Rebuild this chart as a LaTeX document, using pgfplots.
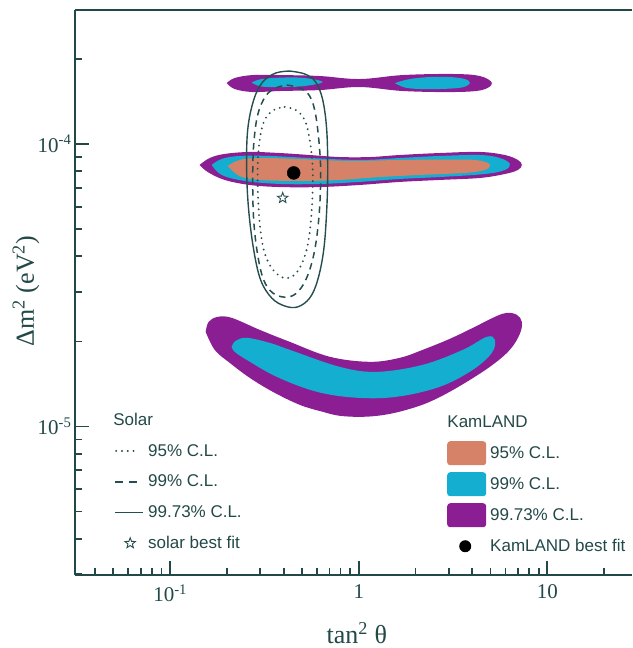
\documentclass[border=0pt]{standalone}
\usepackage{fontspec}
\setmainfont{Liberation Serif}
\newfontfamily\legendfont{Liberation Sans}
\usepackage{pgfplots}
\pgfplotsset{compat=1.18}
\definecolor{axcol}{RGB}{35,72,72}
\definecolor{linecol}{RGB}{38,78,78}
\definecolor{kpurple}{RGB}{140,30,148}
\definecolor{kcyan}{RGB}{20,174,208}
\definecolor{ksalmon}{RGB}{214,130,104}
\newcommand\lfont{\legendfont\fontsize{17}{20}\selectfont}
\pgfdeclareplotmark{ostar}{%
  \pgfpathmoveto{\pgfpointpolar{90}{\pgfplotmarksize}}%
  \pgfpathlineto{\pgfpointpolar{126}{0.42\pgfplotmarksize}}%
  \pgfpathlineto{\pgfpointpolar{162}{\pgfplotmarksize}}%
  \pgfpathlineto{\pgfpointpolar{198}{0.42\pgfplotmarksize}}%
  \pgfpathlineto{\pgfpointpolar{234}{\pgfplotmarksize}}%
  \pgfpathlineto{\pgfpointpolar{270}{0.42\pgfplotmarksize}}%
  \pgfpathlineto{\pgfpointpolar{306}{\pgfplotmarksize}}%
  \pgfpathlineto{\pgfpointpolar{342}{0.42\pgfplotmarksize}}%
  \pgfpathlineto{\pgfpointpolar{18}{\pgfplotmarksize}}%
  \pgfpathlineto{\pgfpointpolar{54}{0.42\pgfplotmarksize}}%
  \pgfpathclose\pgfusepathqstroke}
\begin{document}
\begin{tikzpicture}
% ---------------- KamLAND regions ----------------
\begin{axis}[at={(0pt,0pt)}, anchor=south west, scale only axis,
    width=557pt, height=565pt, xmode=log, ymode=log,
    xmin=0.0313, xmax=28.1, ymin=2.98e-6, ymax=2.98e-4,
  hide axis, legend cell align=left,
  legend style={at={(0.6679,0.2920)}, anchor=north west, draw=none, fill=none,
    inner sep=0pt, row sep=7pt, column sep=2pt, font=\lfont, text=axcol}]
% lower region
\addplot[forget plot, fill=kpurple, draw=none, smooth, tension=0.6] coordinates {
(0.1543,2.163e-5)(0.1600,2.346e-5)(0.1786,2.443e-5)(0.2120,2.424e-5)(0.2984,2.198e-5)
(0.4305,1.994e-5)(0.7019,1.765e-5)(1.144,1.694e-5)(1.650,1.750e-5)(2.185,1.868e-5)
(3.040,2.043e-5)(4.025,2.234e-5)(5.267,2.443e-5)(6.097,2.525e-5)(6.890,2.484e-5)
(7.323,2.346e-5)(7.147,2.128e-5)(6.325,1.868e-5)(4.955,1.626e-5)(3.311,1.371e-5)
(2.381,1.223e-5)(1.797,1.146e-5)(1.374,1.100e-5)(1.050,1.082e-5)(0.7929,1.091e-5)
(0.6442,1.127e-5)(0.4864,1.193e-5)(0.3498,1.327e-5)(0.2641,1.487e-5)(0.2068,1.680e-5)
(0.1722,1.868e-5)(0.1543,2.163e-5)} -- cycle;
\addplot[forget plot, fill=kcyan, draw=none, smooth, tension=0.6] coordinates {
(0.2120,1.914e-5)(0.2226,2.010e-5)(0.2545,2.060e-5)(0.3372,1.977e-5)(0.4305,1.868e-5)
(0.7929,1.626e-5)(1.246,1.561e-5)(2.185,1.653e-5)(3.563,1.868e-5)(4.775,2.077e-5)
(5.267,2.027e-5)(5.077,1.823e-5)(4.025,1.587e-5)(2.690,1.382e-5)(1.591,1.274e-5)
(0.9759,1.264e-5)(0.5986,1.327e-5)(0.3673,1.499e-5)(0.2545,1.722e-5)(0.2199,1.838e-5)
(0.2120,1.914e-5)} -- cycle;
% upper region
\addplot[forget plot, fill=kpurple, draw=none, smooth, tension=0.6] coordinates {
(0.1994,1.643e-4)(0.2199,1.712e-4)(0.2740,1.754e-4)(0.3810,1.754e-4)(0.6207,1.740e-4)
(1.012,1.698e-4)(1.712,1.754e-4)(3.153,1.769e-4)(4.385,1.740e-4)(5.077,1.643e-4)
(4.493,1.552e-4)(3.153,1.527e-4)(1.712,1.540e-4)(1.012,1.591e-4)(0.6207,1.552e-4)
(0.3810,1.540e-4)(0.2740,1.527e-4)(0.2199,1.565e-4)(0.1994,1.643e-4)} -- cycle;
\addplot[forget plot, fill=kcyan, draw=none, smooth, tension=0.6] coordinates {
(0.2706,1.650e-4)(0.3057,1.698e-4)(0.4050,1.719e-4)(0.5169,1.712e-4)(0.6442,1.657e-4)
(0.5169,1.604e-4)(0.4050,1.591e-4)(0.3057,1.597e-4)(0.2706,1.650e-4)} -- cycle;
\addplot[forget plot, fill=kcyan, draw=none, smooth, tension=0.6] coordinates {
(1.552,1.643e-4)(1.865,1.698e-4)(2.381,1.726e-4)(3.040,1.726e-4)(3.651,1.698e-4)
(3.880,1.643e-4)(3.520,1.585e-4)(2.690,1.565e-4)(2.107,1.565e-4)(1.754,1.585e-4)
(1.552,1.643e-4)} -- cycle;
% middle region
\addplot[forget plot, fill=kpurple, draw=none, smooth, tension=0.6] coordinates {
(0.1434,8.43e-5)(0.1621,8.92e-5)(0.1946,9.22e-5)(0.2641,9.37e-5)(0.3810,9.29e-5)
(0.5496,9.14e-5)(0.7929,8.99e-5)(1.144,8.99e-5)(1.650,9.14e-5)(2.690,9.29e-5)
(4.385,9.37e-5)(5.950,9.14e-5)(6.975,8.78e-5)(7.323,8.43e-5)(6.975,8.09e-5)
(5.950,7.83e-5)(4.385,7.58e-5)(2.690,7.46e-5)(1.650,7.34e-5)(1.012,7.16e-5)
(0.6207,7.04e-5)(0.3810,7.04e-5)(0.2641,7.16e-5)(0.1946,7.46e-5)(0.1581,7.96e-5)
(0.1434,8.43e-5)} -- cycle;
\addplot[forget plot, fill=kcyan, draw=none, smooth, tension=0.6] coordinates {
(0.1661,8.43e-5)(0.1876,8.85e-5)(0.2337,9.07e-5)(0.3372,9.07e-5)(0.5496,8.92e-5)
(1.012,8.78e-5)(1.650,8.92e-5)(2.690,9.07e-5)(4.385,9.14e-5)(5.598,8.92e-5)
(6.325,8.50e-5)(5.950,8.09e-5)(4.660,7.83e-5)(2.690,7.64e-5)(1.650,7.52e-5)
(1.012,7.34e-5)(0.6207,7.22e-5)(0.3810,7.22e-5)(0.2484,7.40e-5)(0.1876,7.77e-5)
(0.1661,8.43e-5)} -- cycle;
\addplot[forget plot, fill=ksalmon, draw=none, smooth, tension=0.6] coordinates {
(0.2018,8.36e-5)(0.2337,8.78e-5)(0.2984,8.92e-5)(0.4864,8.85e-5)(0.8961,8.71e-5)
(1.650,8.78e-5)(3.040,8.81e-5)(4.125,8.78e-5)(4.834,8.57e-5)(4.955,8.36e-5)
(4.660,8.09e-5)(3.651,7.90e-5)(2.107,7.77e-5)(1.292,7.64e-5)(0.7929,7.46e-5)
(0.4864,7.40e-5)(0.2984,7.46e-5)(0.2337,7.70e-5)(0.2018,8.36e-5)} -- cycle;
% KamLAND best fit
\addplot[forget plot, only marks, mark=*, mark size=6.5pt, black] coordinates {(0.4519,7.90e-5)};
% legend
\addlegendimage{legend image code/.code={\path[draw=none, fill=none] (0pt,-12pt) rectangle (39pt,12pt);
  \node[overlay, draw=none, fill=none, anchor=west, inner sep=0pt, font=\lfont, text=axcol] at (0pt,0pt) {KamLAND};}}
\addlegendentry{}
\addlegendimage{legend image code/.code={\fill[ksalmon, draw=none, rounded corners=3pt] (0pt,-12pt) rectangle (39pt,12pt);}}
\addlegendentry{95\% C.L.}
\addlegendimage{legend image code/.code={\fill[kcyan, draw=none, rounded corners=3pt] (0pt,-12pt) rectangle (39pt,12pt);}}
\addlegendentry{99\% C.L.}
\addlegendimage{legend image code/.code={\fill[kpurple, draw=none, rounded corners=3pt] (0pt,-12pt) rectangle (39pt,12pt);}}
\addlegendentry{99.73\% C.L.}
\addlegendimage{legend image code/.code={\path[draw=none, fill=none] (0pt,-12pt) rectangle (39pt,12pt);
  \fill[black, draw=none] (18pt,0pt) circle (6pt);}}
\addlegendentry{KamLAND best fit}
\end{axis}
% ---------------- Solar contours and frame ----------------
\begin{axis}[at={(0pt,0pt)}, anchor=south west, scale only axis,
    width=557pt, height=565pt, xmode=log, ymode=log,
    xmin=0.0313, xmax=28.1, ymin=2.98e-6, ymax=2.98e-4,
  axis x line*=box, axis y line*=left,
  axis line style={line width=2pt, draw=axcol, -},
  xtick pos=left, ytick pos=left,
  tick align=inside, major tick length=14pt, minor tick length=7pt,
  tick style={line width=1.8pt, draw=axcol},
  xtick={0.1,1,10}, xticklabels={10\textsuperscript{-1},1,10},
  minor xtick={0.04,0.05,0.06,0.07,0.08,0.09,0.2,0.3,0.4,0.5,0.6,0.7,0.8,0.9,2,3,4,5,6,7,8,9,20},
  ytick={1e-5,1e-4}, yticklabels={10\textsuperscript{-5},10\textsuperscript{-4}},
  minor ytick={3e-6,4e-6,5e-6,6e-6,7e-6,8e-6,9e-6,2e-5,3e-5,4e-5,5e-5,6e-5,7e-5,8e-5,9e-5,2e-4},
  ticklabel style={font=\fontsize{21}{24}\selectfont, text=axcol},
  xticklabel style={yshift=-6pt},
  xlabel={tan\textsuperscript{2} θ},
  ylabel={Δm\textsuperscript{2} (eV\textsuperscript{2})},
  xlabel style={at={(axis description cs:0.506,-0.1027)}, anchor=center, font=\fontsize{26}{30}\selectfont, text=axcol},
  ylabel style={at={(axis description cs:-0.088,0.5027)}, anchor=center, font=\fontsize{26}{30}\selectfont, text=axcol},
  legend cell align=left,
  legend style={at={(0.0682,0.2956)}, anchor=north west, draw=none, fill=none,
    inner sep=0pt, row sep=6.75pt, column sep=2pt, font=\lfont, text=axcol}]
% 99.73% solid
\addplot[forget plot, linecol, line width=1.4pt, smooth, tension=0.6] coordinates {
(0.4305,1.812e-4)(0.5169,1.769e-4)(0.5911,1.657e-4)(0.6442,1.431e-4)(0.6764,1.121e-4)
(0.6847,8.09e-5)(0.6764,5.84e-5)(0.6521,4.22e-5)(0.6057,3.30e-5)(0.5496,2.85e-5)
(0.4745,2.65e-5)(0.4050,2.67e-5)(0.3455,2.85e-5)(0.3020,3.30e-5)(0.2773,4.22e-5)
(0.2608,5.84e-5)(0.2545,8.09e-5)(0.2577,1.121e-4)(0.2773,1.431e-4)(0.3095,1.657e-4)
(0.3628,1.783e-4)(0.4305,1.812e-4)};
% 99% dashed
\addplot[forget plot, linecol, line width=1.5pt, dash pattern=on 6.5pt off 5pt, smooth, tension=0.6] coordinates {
(0.4150,1.617e-4)(0.4864,1.578e-4)(0.5496,1.478e-4)(0.5911,1.266e-4)(0.6207,9.52e-5)
(0.6283,7.46e-5)(0.6131,5.38e-5)(0.5772,4.05e-5)(0.5233,3.30e-5)(0.4630,2.95e-5)
(0.4050,2.87e-5)(0.3498,2.97e-5)(0.3133,3.30e-5)(0.2911,4.05e-5)(0.2773,5.38e-5)
(0.2740,7.46e-5)(0.2773,9.92e-5)(0.2911,1.266e-4)(0.3210,1.478e-4)(0.3628,1.578e-4)
(0.4150,1.617e-4)};
% 95% dotted
\addplot[forget plot, linecol, line width=2.1pt, line cap=round, dash pattern=on 0pt off 5.8pt, smooth, tension=0.6] coordinates {
(0.4050,1.352e-4)(0.4630,1.319e-4)(0.5169,1.216e-4)(0.5496,1.033e-4)(0.5702,8.09e-5)
(0.5632,5.84e-5)(0.5362,4.39e-5)(0.4864,3.64e-5)(0.4305,3.36e-5)(0.3810,3.41e-5)
(0.3372,3.73e-5)(0.3095,4.39e-5)(0.2947,5.84e-5)(0.2911,8.09e-5)(0.2984,1.033e-4)
(0.3172,1.216e-4)(0.3541,1.319e-4)(0.4050,1.352e-4)};
% solar best fit
\addplot[forget plot, only marks, mark=ostar, mark size=5.5pt, linecol, line width=0.9pt] coordinates {(0.3952,6.44e-5)};
% legend
\addlegendimage{legend image code/.code={\path[draw=none, fill=none] (0pt,-12pt) rectangle (31pt,12pt);
  \node[overlay, draw=none, fill=none, anchor=west, inner sep=0pt, font=\lfont, text=axcol] at (0pt,0pt) {Solar};}}
\addlegendentry{}
\addlegendimage{legend image code/.code={\path[draw=none, fill=none] (0pt,-12pt) rectangle (31pt,12pt);
  \draw[linecol, line width=2.2pt, line cap=round, dash pattern=on 0pt off 5.8pt] (3pt,0pt) -- (21pt,0pt);}}
\addlegendentry{95\% C.L.}
\addlegendimage{legend image code/.code={\path[draw=none, fill=none] (0pt,-12pt) rectangle (31pt,12pt);
  \draw[linecol, line width=1.6pt, dash pattern=on 8pt off 6pt] (2pt,0pt) -- (26pt,0pt);}}
\addlegendentry{99\% C.L.}
\addlegendimage{legend image code/.code={\path[draw=none, fill=none] (0pt,-12pt) rectangle (31pt,12pt);
  \draw[linecol, line width=1.6pt] (2pt,0pt) -- (30pt,0pt);}}
\addlegendentry{99.73\% C.L.}
\addlegendimage{legend image code/.code={\path[draw=none, fill=none] (0pt,-12pt) rectangle (31pt,12pt);
  \draw[linecol, line width=0.9pt] plot[mark=ostar, mark size=5.5pt] coordinates {(17pt,0pt)};}}
\addlegendentry{solar best fit}
\end{axis}
\pgfresetboundingbox
\useasboundingbox (-75pt,-73pt) rectangle (557pt,575pt);
\end{tikzpicture}
\end{document}
